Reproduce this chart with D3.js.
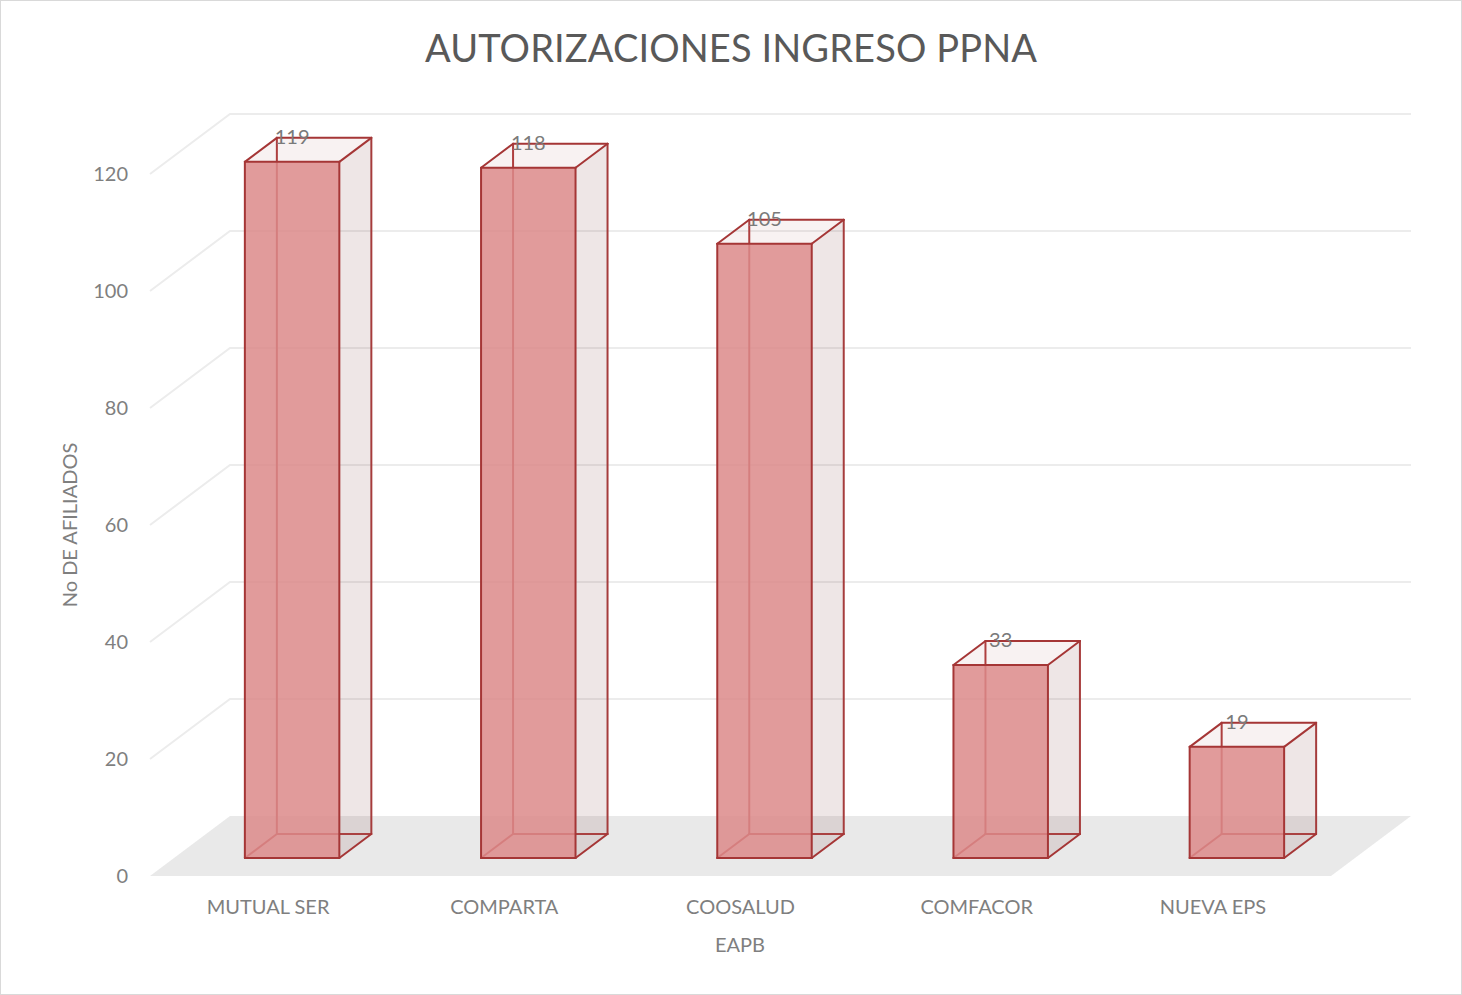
<!DOCTYPE html>
<html>
<head>
<meta charset="utf-8">
<script src="https://cdnjs.cloudflare.com/ajax/libs/d3/7.8.5/d3.min.js"></script>
<style>
  body { margin: 0; background: #fff; }
  svg { display: block; font-family: Lato, "Open Sans", sans-serif; }
</style>
</head>
<body>
<svg id="svg" width="1462" height="995"></svg>
<script>
var categories = ['MUTUAL SER', 'COMPARTA', 'COOSALUD', 'COMFACOR', 'NUEVA EPS'];
var values = [119, 118, 105, 33, 19];
var yTicks = [0, 20, 40, 60, 80, 100, 120];

var width = 1462;
var height = 995;

// floor front edge and depth of the 3d box
var floorLeft = 150, floorRight = 1331;
var depthX = 80, depthY = -60;

var svg = d3.select('svg');

var x = d3.scaleBand()
    .domain(categories)
    .range([floorLeft, floorRight])
    .paddingInner(0.6)
    .paddingOuter(0.3);

var y = d3.scaleLinear()
    .domain([0, 120])
    .range([876, 174]);

// shift a point into the depth (0 = front, 1 = back wall)
function pt(px, py, d) {
    return [px + depthX * d, py + depthY * d];
}
function poly(points) {
    return points.map(function(p){ return p[0] + ',' + p[1]; }).join(' ');
}

// chart border
svg.append('rect')
    .attr('x', 0.5).attr('y', 0.5)
    .attr('width', width - 1).attr('height', height - 1)
    .attr('fill', 'none')
    .attr('stroke', '#d9d9d9');

// floor
svg.append('polygon')
    .attr('points', poly([pt(floorLeft, y(0), 0), pt(floorRight, y(0), 0), pt(floorRight, y(0), 1), pt(floorLeft, y(0), 1)]))
    .attr('fill', '#e9e9e9');

// gridlines: side wall + back wall
var grid = svg.append('g');
yTicks.filter(function(t){ return t > 0; }).forEach(function(t) {
    var a = pt(floorLeft, y(t), 0), b = pt(floorLeft, y(t), 1), c = pt(floorRight, y(t), 1);
    grid.append('polyline')
        .attr('points', poly([a, b, c]))
        .attr('fill', 'none')
        .attr('stroke', '#ececec')
        .attr('stroke-width', 2);
});

// y tick labels
svg.append('g').selectAll('text')
    .data(yTicks)
    .enter()
    .append('text')
    .attr('x', 128)
    .attr('y', function(d){ return y(d); })
    .attr('dy', '0.35em')
    .attr('text-anchor', 'end')
    .attr('font-size', 20)
    .attr('fill', '#7f7f7f')
    .text(function(d){ return d; });

// bars
var d0 = 0.3, d1 = 0.7;
var edgeColor = '#a53636';

var bars = svg.append('g').selectAll('g')
    .data(values)
    .enter()
    .append('g');

bars.each(function(v, i) {
    var g = d3.select(this);
    var xl = x(categories[i]), xr = xl + x.bandwidth();
    var yb = y(0), yt = y(v);
    var fbl = pt(xl, yb, d0), fbr = pt(xr, yb, d0), ftl = pt(xl, yt, d0), ftr = pt(xr, yt, d0);
    var bbl = pt(xl, yb, d1), bbr = pt(xr, yb, d1), btl = pt(xl, yt, d1), btr = pt(xr, yt, d1);

    function edge(a, b, col) {
        g.append('line')
            .attr('x1', a[0]).attr('y1', a[1])
            .attr('x2', b[0]).attr('y2', b[1])
            .attr('stroke', col || edgeColor)
            .attr('stroke-width', 2)
            .attr('stroke-linecap', 'round');
    }

    // hidden edges, seen through the faces
    edge(bbl, btl, '#b03f3f');
    edge(bbl, bbr, '#b03f3f');
    edge(fbl, bbl, '#b03f3f');
    edge(bbr, btr, '#a83c3c');

    // side face
    g.append('polygon')
        .attr('points', poly([fbr, bbr, btr, ftr]))
        .attr('fill', '#8a5050')
        .attr('fill-opacity', 0.14);
    // top face
    g.append('polygon')
        .attr('points', poly([ftl, ftr, btr, btl]))
        .attr('fill', '#a04040')
        .attr('fill-opacity', 0.07);
    // front face
    g.append('polygon')
        .attr('points', poly([fbl, fbr, ftr, ftl]))
        .attr('fill', '#dc8a8a')
        .attr('fill-opacity', 0.85);

    // visible edges
    edge(fbl, fbr); edge(fbr, ftr); edge(ftr, ftl); edge(ftl, fbl);
    edge(ftl, btl); edge(btl, btr); edge(btr, ftr);
    edge(fbr, bbr);

    // data label
    g.append('text')
        .attr('x', (fbl[0] + fbr[0]) / 2)
        .attr('y', btl[1] + 6)
        .attr('text-anchor', 'middle')
        .attr('font-size', 20)
        .attr('fill', '#7a7a7a')
        .text(v);
});

// category labels
svg.append('g').selectAll('text')
    .data(categories)
    .enter()
    .append('text')
    .attr('x', function(d){ return x(d) + x.bandwidth() / 2; })
    .attr('y', 914)
    .attr('text-anchor', 'middle')
    .attr('font-size', 20)
    .attr('fill', '#7f7f7f')
    .text(function(d){ return d; });

// axis titles
svg.append('text')
    .attr('x', 740)
    .attr('y', 952)
    .attr('text-anchor', 'middle')
    .attr('font-size', 20)
    .attr('fill', '#7f7f7f')
    .text('EAPB');

svg.append('text')
    .attr('transform', 'translate(77,525) rotate(-90)')
    .attr('text-anchor', 'middle')
    .attr('font-size', 20)
    .attr('fill', '#7f7f7f')
    .text('No DE AFILIADOS');

// title
svg.append('text')
    .attr('x', 731)
    .attr('y', 62)
    .attr('text-anchor', 'middle')
    .attr('font-size', 38)
    .attr('textLength', 612)
    .attr('lengthAdjust', 'spacing')
    .attr('fill', '#595959')
    .text('AUTORIZACIONES INGRESO PPNA');
</script>
</body>
</html>
